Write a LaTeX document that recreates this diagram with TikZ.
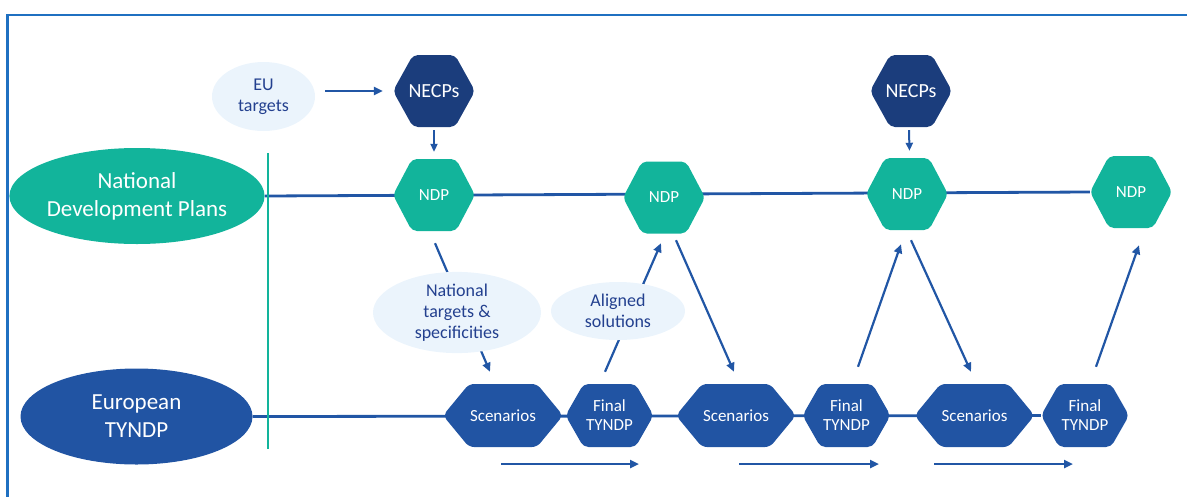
\documentclass[tikz,border=0pt]{standalone}
\usepackage{fontspec}
\setmainfont{Carlito}
\usetikzlibrary{shapes.geometric,arrows.meta}
\definecolor{ndpteal}{HTML}{12B49B}
\definecolor{necpnavy}{HTML}{1B3D7C}
\definecolor{tyblue}{HTML}{2154A3}
\definecolor{linkblue}{HTML}{2156A5}
\definecolor{softbg}{HTML}{EBF4FC}
\definecolor{labelnavy}{HTML}{23408F}
\definecolor{framec}{HTML}{1F70C1}
\pgfdeclarelayer{bg}
\pgfsetlayers{bg,main}
\tikzset{
  hexshape/.style 2 args={path picture={
    \fill[#1,rounded corners=5pt]
      (path picture bounding box.north)
      -- ([xshift=-#2]path picture bounding box.north east)
      -- (path picture bounding box.east)
      -- ([xshift=-#2]path picture bounding box.south east)
      -- ([xshift=#2]path picture bounding box.south west)
      -- (path picture bounding box.west)
      -- ([xshift=#2]path picture bounding box.north west)
      -- cycle;}},
  ndpbox/.style={hexshape={ndpteal}{19pt}, inner sep=0pt, minimum width=82pt,
    minimum height=72pt, text=white, font=\fontsize{17}{19}\selectfont},
  necpbox/.style={hexshape={necpnavy}{20pt}, inner sep=0pt, minimum width=82pt,
    minimum height=72pt, text=white, font=\fontsize{20}{22}\selectfont},
  scenbox/.style={hexshape={tyblue}{26pt}, inner sep=0pt, minimum width=120pt,
    minimum height=63pt, text=white, font=\fontsize{17}{19}\selectfont},
  finbox/.style={hexshape={tyblue}{18pt}, inner sep=0pt, minimum width=88pt,
    minimum height=63pt, text=white, align=center, font=\fontsize{17}{19}\selectfont},
  softell/.style={ellipse, fill=softbg, text=labelnavy, align=center, inner sep=0pt,
    font=\fontsize{18}{21}\selectfont},
  bigell/.style={ellipse, text=white, align=center, inner sep=0pt,
    minimum width=232pt, minimum height=96pt, font=\fontsize{23}{28}\selectfont},
  link/.style={draw=linkblue, line width=2.2pt, -{Triangle[length=9pt,width=8pt]}},
  rail/.style={draw=linkblue, line width=2.8pt},
}
\begin{document}
\begin{tikzpicture}[x=1pt,y=-1pt]
\useasboundingbox (0,0) rectangle (1187,496);

% outer frame
\coordinate (fr1) at (7.5,497);
\coordinate (fr2) at (7.5,15);
\coordinate (fr3) at (1188,15);
\draw[framec, line width=2.2pt] (fr1) -- (fr2) -- (fr3);

% row labels
\node[bigell, fill=ndpteal] (ndpE) at (137,196) {National\\Development Plans};
\node[bigell, fill=tyblue] (tyE) at (136.5,416.5) {European\\TYNDP};

% upper row
\node[softell, minimum width=103pt, minimum height=69pt] (eu) at (263.5,96.5) {EU\\targets};
\node[necpbox] (necp1) at (434,91) {NECPs};
\node[necpbox] (necp2) at (911,91) {NECPs};
\node[ndpbox] (ndp1) at (434,195) {NDP};
\node[ndpbox] (ndp2) at (664,197.5) {NDP};
\node[ndpbox] (ndp3) at (907,194) {NDP};
\node[ndpbox] (ndp4) at (1131,192) {NDP};

% lower row
\node[scenbox] (scen1) at (503,415.5) {Scenarios};
\node[finbox] (fin1) at (609.5,415.5) {Final\\TYNDP};
\node[scenbox] (scen2) at (736,415.5) {Scenarios};
\node[finbox] (fin2) at (846.5,415.5) {Final\\TYNDP};
\node[scenbox] (scen3) at (974.5,415.5) {Scenarios};
\node[finbox] (fin3) at (1085,415.5) {Final\\TYNDP};

% exchange labels
\node[softell, minimum width=168pt, minimum height=59pt] (nt) at (457,312.5)
  {National\\targets \&\\specificities};
\node[softell, minimum width=134pt, minimum height=58pt] (al) at (618,311)
  {Aligned\\solutions};

\begin{pgfonlayer}{bg}
  % timelines
  \draw[rail] (ndpE.east) -- (ndp4.west);
  \draw[rail] (tyE.east) -- (fin3.west);
  % links passing behind the labels
  \draw[link] ([shift={(1,12)}]ndp1.south) -- ([shift={(-13,-12)}]scen1.north);
  \draw[link] ([shift={(-4.5,-12)}]fin1.north) -- ([shift={(-3,9.5)}]ndp2.south);
\end{pgfonlayer}

% separator
\coordinate (vt) at (268,153);
\coordinate (vb) at (268,449);
\draw[ndpteal, line width=1.8pt] (vt) -- (vb);

% links
\draw[link] ([shift={(10,-5.5)}]eu.east) -- ([shift={(-10,0)}]necp1.west);
\draw[link, line width=2pt, -{Triangle[length=8pt,width=7pt]}]
  ([shift={(0,3)}]necp1.south) -- ([shift={(0,-7)}]ndp1.north);
\draw[link, line width=2pt, -{Triangle[length=8pt,width=7pt]}]
  ([shift={(-2,3)}]necp2.south) -- ([shift={(2.5,-7)}]ndp3.north);
\draw[link] ([shift={(12,6.5)}]ndp2.south) -- ([shift={(-2,-12)}]scen2.north);
\draw[link] ([shift={(11.5,-17)}]fin2.north) -- ([shift={(-6,14)}]ndp3.south);
\draw[link] ([shift={(4,10)}]ndp3.south) -- ([shift={(-3.5,-12)}]scen3.north);
\draw[link] ([shift={(11,-17)}]fin3.north) -- ([shift={(8,17)}]ndp4.south);

% time arrows
\coordinate (t1a) at (501,464); \coordinate (t1b) at (639,464);
\coordinate (t2a) at (739,464); \coordinate (t2b) at (879,464);
\coordinate (t3a) at (934,464); \coordinate (t3b) at (1073,464);
\draw[link, line width=2.8pt] (t1a) -- (t1b);
\draw[link, line width=2.8pt] (t2a) -- (t2b);
\draw[link, line width=2.8pt] (t3a) -- (t3b);
\end{tikzpicture}
\end{document}
